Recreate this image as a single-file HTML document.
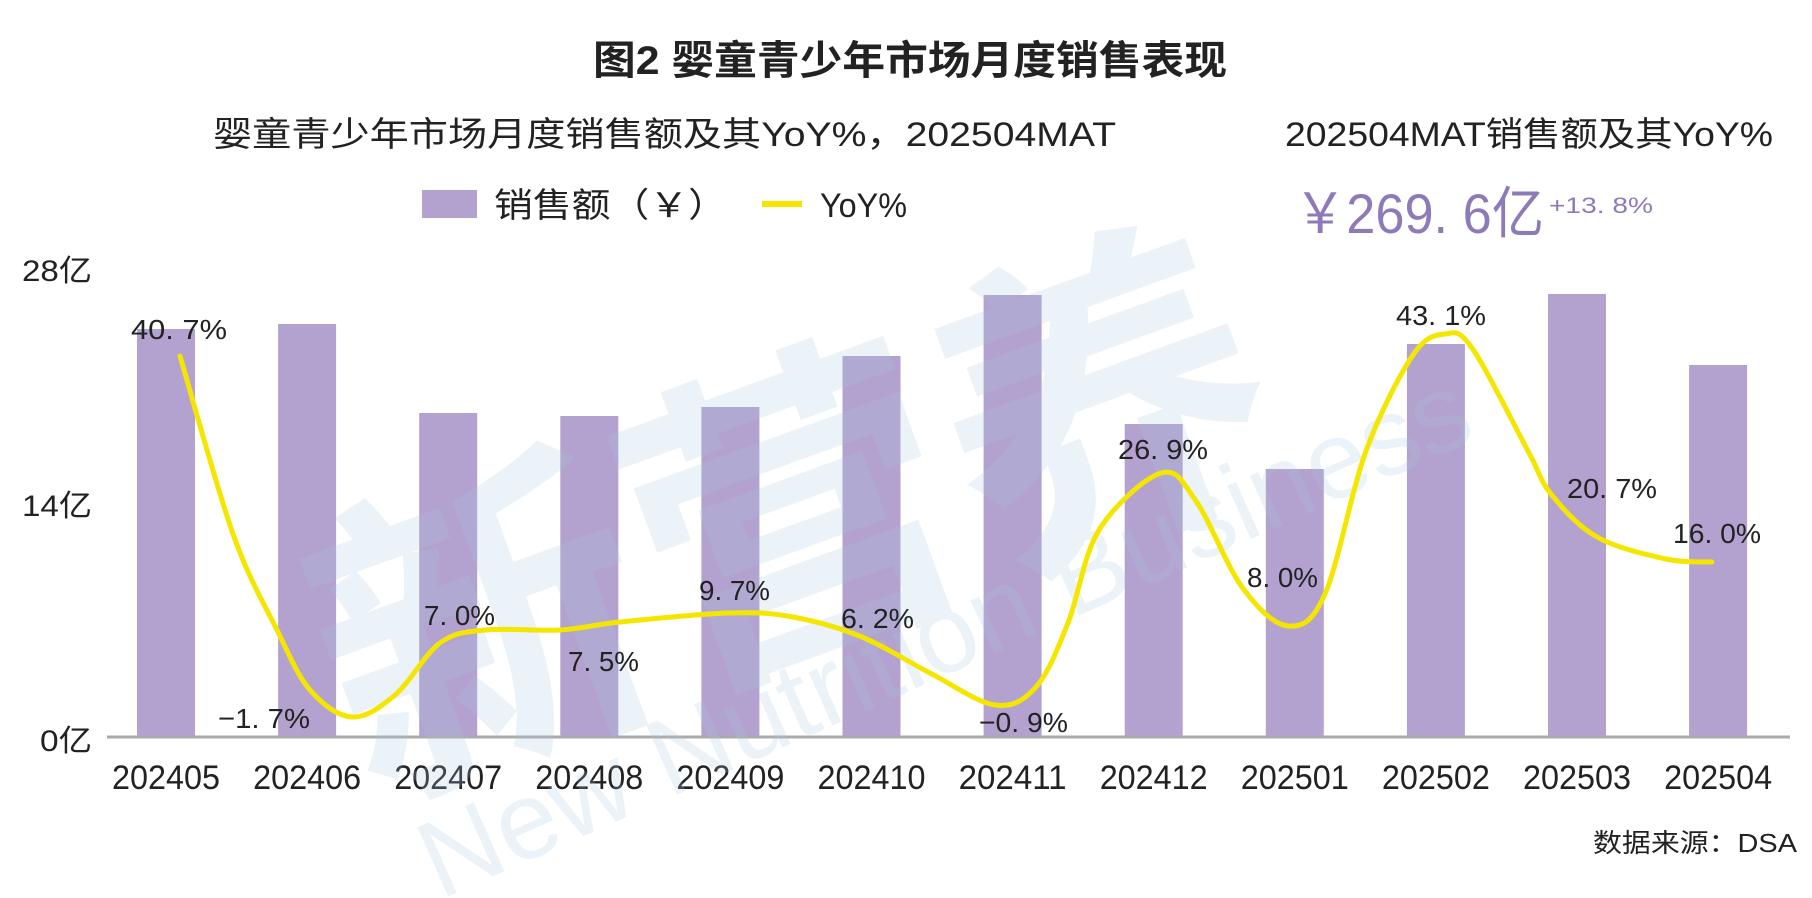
<!DOCTYPE html>
<html><head><meta charset="utf-8">
<style>
html,body{margin:0;padding:0;background:#fff;}
svg{display:block;}
text{font-family:"Liberation Sans","Noto Sans CJK SC",sans-serif;}
</style></head>
<body>
<svg id="s" width="1812" height="898" viewBox="0 0 1812 898" xmlns="http://www.w3.org/2000/svg">
<rect width="1812" height="898" fill="#fff"/>
<text x="593" y="74" font-size="40" font-weight="bold" fill="#222" textLength="634" lengthAdjust="spacingAndGlyphs">图2 婴童青少年市场月度销售表现</text>
<text x="213" y="146" font-size="34" fill="#222" textLength="903" lengthAdjust="spacingAndGlyphs">婴童青少年市场月度销售额及其YoY%，202504MAT</text>
<text x="1285" y="146" font-size="34" fill="#222" textLength="488" lengthAdjust="spacingAndGlyphs">202504MAT销售额及其YoY%</text>
<rect x="422" y="190" width="55" height="28" fill="#b3a2cf"/>
<text x="494" y="217" font-size="34" fill="#222" textLength="233" lengthAdjust="spacingAndGlyphs">销售额（￥）</text>
<rect x="762" y="201" width="40" height="6" fill="#f5e600"/>
<text x="820" y="217" font-size="34" fill="#222" textLength="87" lengthAdjust="spacingAndGlyphs">YoY%</text>
<text x="1294" y="233" font-size="56" fill="#8e7ab8" textLength="250" lengthAdjust="spacingAndGlyphs">￥269. 6亿</text>
<text x="1549" y="213" font-size="22" fill="#8e7ab8" textLength="104" lengthAdjust="spacingAndGlyphs">+13. 8%</text>
<g font-size="30" fill="#222">
<text x="22" y="281" textLength="70" lengthAdjust="spacingAndGlyphs">28亿</text>
<text x="22" y="516" textLength="70" lengthAdjust="spacingAndGlyphs">14亿</text>
<text x="40" y="751" textLength="52" lengthAdjust="spacingAndGlyphs">0亿</text>
</g>
<g id="bars" fill="#b3a2cf"></g>
<line x1="107" y1="737" x2="1790" y2="737" stroke="#aaa" stroke-width="3"/>
<g id="xl" font-size="34" fill="#222"></g>
<g fill="#a9c6e3" opacity="0.22" font-family="'Noto Sans CJK SC',sans-serif">
<text x="280" y="700" font-size="330" font-weight="bold" transform="rotate(-20 600 500)">新营养</text>
<text x="440" y="900" font-size="110" transform="rotate(-24 440 900)" font-family="'Liberation Sans',sans-serif">New Nutrition Business</text>
</g>
<path id="ln" fill="none" stroke="#f5e600" stroke-width="5" stroke-linecap="round" stroke-linejoin="round"/>
<g id="pl" font-size="28" fill="#222"></g>
<text x="1593" y="852" font-size="26" fill="#222" textLength="204" lengthAdjust="spacingAndGlyphs">数据来源：DSA</text>
</svg>
<script>
var NS="http://www.w3.org/2000/svg";
function el(t,a,txt,p){var e=document.createElementNS(NS,t);for(var k in a)e.setAttribute(k,a[k]);if(txt)e.textContent=txt;document.getElementById(p).appendChild(e);}
var tops=[329,324,413,416,407,356,295,424,469,344,294,365];
var labs=["202405","202406","202407","202408","202409","202410","202411","202412","202501","202502","202503","202504"];
for(var i=0;i<12;i++){var x=137+141.1*i;
el("rect",{x:x,y:tops[i],width:58,height:737-tops[i]},null,"bars");
el("text",{x:x+29-54,y:789,textLength:108,lengthAdjust:"spacingAndGlyphs"},labs[i],"xl");}
var P=[[180,356],[233,534],[277,630],[310,690],[352,717],[395,695],[440,643],[485,630],[560,630],[620,622],[729,613],[793,617],[862,637],[930,673],[995,705],[1036,687],[1068,623],[1099,530],[1161,473],[1196,501],[1242,587],[1288,626],[1325,594],[1366,451],[1413,355],[1445,334],[1472,348],[1528,451],[1551,494],[1597,537],[1666,559],[1712,562]];
var d="M"+P[0][0]+","+P[0][1];
for(var i=0;i<P.length-1;i++){var p0=P[Math.max(0,i-1)],p1=P[i],p2=P[i+1],p3=P[Math.min(P.length-1,i+2)];
d+=" C"+(p1[0]+(p2[0]-p0[0])/6)+","+(p1[1]+(p2[1]-p0[1])/6)+" "+(p2[0]-(p3[0]-p1[0])/6)+","+(p2[1]-(p3[1]-p1[1])/6)+" "+p2[0]+","+p2[1];}
document.getElementById("ln").setAttribute("d",d);
var L=[["40. 7%",131,227,328],["−1. 7%",218,310,717],["7. 0%",424,495,614],["7. 5%",568,639,660],["9. 7%",699,770,589],["6. 2%",841,914,617],["−0. 9%",979,1068,721],["26. 9%",1118,1208,448],["8. 0%",1247,1318,576],["43. 1%",1396,1486,314],["20. 7%",1567,1657,487],["16. 0%",1673,1761,532]];
L.forEach(function(l){el("text",{x:l[1],y:l[3]+11,textLength:l[2]-l[1],lengthAdjust:"spacingAndGlyphs"},l[0],"pl");});
</script>
</body></html>
